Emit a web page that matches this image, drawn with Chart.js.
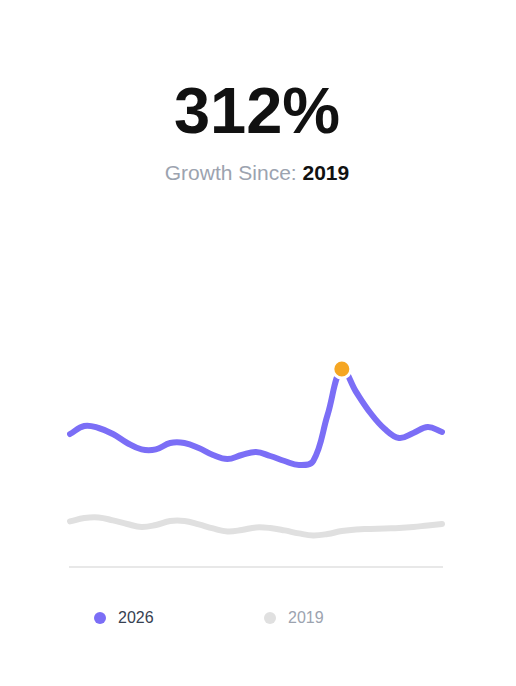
<!DOCTYPE html>
<html>
<head>
<meta charset="utf-8">
<title>Growth Since 2019</title>
<script src="https://cdn.jsdelivr.net/npm/chart.js@4.4.1/dist/chart.umd.min.js"></script>
<style>
  html, body {
    margin: 0;
    padding: 0;
    background: #ffffff;
  }
  body {
    position: relative;
    width: 516px;
    height: 686px;
    overflow: hidden;
    font-family: "Liberation Sans", Arial, Helvetica, sans-serif;
  }
  .headline {
    position: absolute;
    top: 78px;
    left: -1px;
    width: 516px;
    text-align: center;
    font-size: 65px;
    line-height: 65px;
    font-weight: 700;
    color: #111111;
  }
  .subline {
    position: absolute;
    top: 162px;
    left: -1px;
    width: 516px;
    text-align: center;
    font-size: 21px;
    line-height: 21px;
    color: #9ca3af;
  }
  .subline b {
    color: #111111;
  }
  .chart-wrap {
    position: absolute;
    top: 197px;
    left: 0;
    width: 516px;
    height: 393px;
  }
  .legend-item {
    position: absolute;
    top: 610px;
    height: 16px;
    font-size: 16px;
    line-height: 16px;
  }
  .legend-dot {
    position: absolute;
    top: 2px;
    width: 12px;
    height: 12px;
    border-radius: 50%;
  }
  .legend-text {
    position: absolute;
    top: 0;
    white-space: nowrap;
  }
</style>
</head>
<body>
  <div class="headline">312%</div>
  <div class="subline">Growth Since: <b>2019</b></div>

  <div class="chart-wrap">
    <canvas id="growth-chart" width="516" height="393"></canvas>
  </div>
  <div id="legend"></div>

<script>
// x 카테고리 (27개 구간)
const periods = ['1', '2', '3', '4', '5', '6', '7', '8', '9', '10', '11', '12', '13', '14',
  '15', '16', '17', '18', '19', '20', '21', '22', '23', '24', '25', '26', '27'];

// 2026 시리즈
const values2026 = [66.5, 70.5, 69.5, 66.5, 62, 58.8, 58.8, 62, 62, 59.5, 56, 54, 56, 57.5,
  55.5, 53, 51, 53, 76, 99, 87.5, 77, 69, 64.5, 67, 70, 67.5];

// 2019 시리즈
const values2019 = [22.8, 24.5, 24.8, 23.3, 21.5, 20, 21, 23, 23, 21.3, 19.3, 17.8, 18.5, 19.8,
  19.5, 18.3, 16.8, 15.8, 16.5, 18, 18.8, 19, 19.3, 19.5, 20, 20.8, 21.5];

// 강조할 최고점 인덱스
const highlightIndex = 19;

const seriesNames = ['2026', '2019'];
const seriesColors = ['#7b6ef6', '#e0e0e0'];
const legendTextColors = ['#374151', '#9ca3af'];
const legendLeft = [94, 264];

const pointRadii = values2026.map((v, i) => (i === highlightIndex ? 9 : 0));

const ctx = document.getElementById('growth-chart');

new Chart(ctx, {
  type: 'line',
  data: {
    labels: periods,
    datasets: [
      {
        label: seriesNames[0],
        data: values2026,
        borderColor: seriesColors[0],
        borderWidth: 6,
        borderCapStyle: 'round',
        borderJoinStyle: 'round',
        tension: 0.4,
        fill: false,
        pointRadius: pointRadii,
        pointHoverRadius: pointRadii,
        pointBackgroundColor: '#f5a623',
        pointBorderColor: '#ffffff',
        pointBorderWidth: 3,
        order: 1
      },
      {
        label: seriesNames[1],
        data: values2019,
        borderColor: seriesColors[1],
        borderWidth: 6,
        borderCapStyle: 'round',
        borderJoinStyle: 'round',
        tension: 0.4,
        fill: false,
        pointRadius: 0,
        order: 2
      }
    ]
  },
  options: {
    responsive: false,
    animation: false,
    devicePixelRatio: 1,
    layout: {
      padding: { top: 10, left: 70, right: 74, bottom: 23 }
    },
    plugins: {
      legend: { display: false },
      tooltip: { enabled: false }
    },
    scales: {
      x: {
        display: true,
        grid: { display: false, drawTicks: false },
        ticks: { display: false },
        border: { display: true, color: '#e8e8e8', width: 2 }
      },
      y: {
        display: false,
        min: 0,
        max: 180
      }
    }
  }
});

// 범례 (HTML)
const legendEl = document.getElementById('legend');
seriesNames.forEach((name, i) => {
  const item = document.createElement('div');
  item.className = 'legend-item';
  item.style.left = legendLeft[i] + 'px';
  item.innerHTML = `
    <span class="legend-dot" style="left: 0; background: ${seriesColors[i]};"></span>
    <span class="legend-text" style="left: 24px; color: ${legendTextColors[i]};">${name}</span>
  `;
  legendEl.appendChild(item);
});
</script>
</body>
</html>
